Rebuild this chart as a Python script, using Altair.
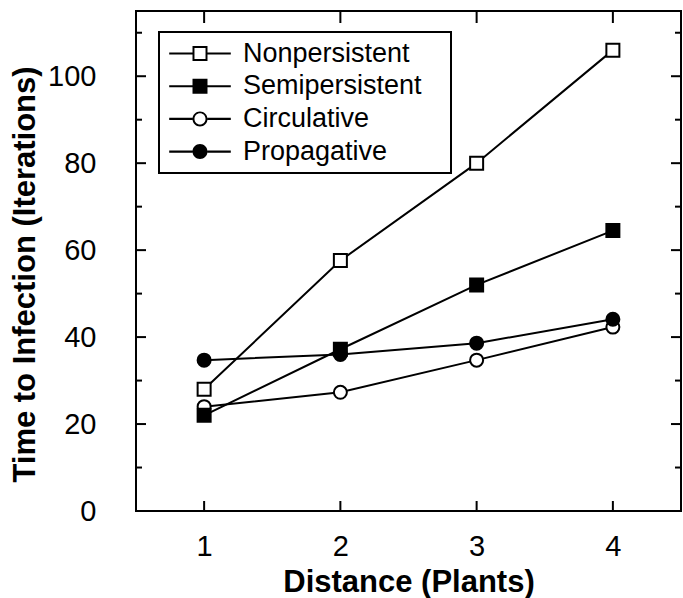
import altair as alt
import pandas as pd

# ---------------- data ----------------
distance = [1, 2, 3, 4]
series_names = ["Nonpersistent", "Semipersistent", "Circulative", "Propagative"]
nonpersistent = [28.0, 57.6, 80.0, 106.0]
semipersistent = [22.0, 37.2, 52.0, 64.5]
circulative = [24.0, 27.3, 34.7, 42.3]
propagative = [34.7, 36.0, 38.6, 44.1]

x_ticks = [1, 2, 3, 4]
y_major = [0, 20, 40, 60, 80, 100]
y_minor = [10, 30, 50, 70, 90, 110]

values = {
    "Nonpersistent": nonpersistent,
    "Semipersistent": semipersistent,
    "Circulative": circulative,
    "Propagative": propagative,
}
draw_order = ["Nonpersistent", "Circulative", "Propagative", "Semipersistent"]
rows = []
for name in draw_order:
    for d, v in zip(distance, values[name]):
        rows.append({"series": name, "distance": d, "time": v})
df = pd.DataFrame(rows)

# ---------------- layout ----------------
W, H = 545, 500
FONT = "Liberation Sans"

# legend symbols: line through marker (fill-only paths, unit = 7 px);
# the trailing move-to widens the legend box to the right
bars = "M-4.4,-0.15H-1.07V0.15H-4.4Z M1.07,-0.15H4.4V0.15H1.07Z "
pad = " M34.7,0Z"
open_sq = "M-1.07,-1.07H1.07V1.07H-1.07Z M-0.79,-0.79V0.79H0.79V-0.79Z"
fill_sq = "M-1.07,-1.07H1.07V1.07H-1.07Z"
open_ci = ("M-1.07,0A1.07,1.07,0,1,1,1.07,0A1.07,1.07,0,1,1,-1.07,0Z "
           "M-0.79,0A0.79,0.79,0,1,0,0.79,0A0.79,0.79,0,1,0,-0.79,0Z")
fill_ci = "M-1.07,0A1.07,1.07,0,1,1,1.07,0A1.07,1.07,0,1,1,-1.07,0Z"
legend_paths = [bars + open_sq + pad, bars + fill_sq + pad,
                bars + open_ci + pad, bars + fill_ci + pad]

xscale = alt.Scale(domain=[0.5, 4.5], nice=False, zero=False)
yscale = alt.Scale(domain=[0, 115], nice=False, zero=False)

x_axis = alt.Axis(
    values=x_ticks, ticks=False, tickSize=0, domain=False, grid=False,
    labelFont=FONT, labelFontSize=29, labelColor="black", labelPadding=21,
    title="Distance (Plants)", titleFont=FONT, titleFontSize=31,
    titleFontWeight="bold", titleColor="black",
    titleY=80, titleBaseline="alphabetic",
)
y_axis = alt.Axis(
    values=y_major, ticks=False, tickSize=0, domain=False, grid=False,
    labelFont=FONT, labelFontSize=29, labelColor="black", labelPadding=40,
    labelBaseline="middle",
    title="Time to Infection (Iterations)", titleFont=FONT, titleFontSize=31,
    titleFontWeight="bold", titleColor="black",
    titleX=-111, titleY=263, titleBaseline="middle",
)

def X(field="distance"):
    return alt.X(f"{field}:Q", scale=xscale, axis=x_axis, title="Distance (Plants)")

def Y(field="time"):
    return alt.Y(f"{field}:Q", scale=yscale, axis=y_axis, title="Time to Infection (Iterations)")

lines = alt.Chart(df).mark_line(color="black", strokeWidth=2).encode(
    x=X(), y=Y(), detail="series:N"
)

points = alt.Chart(df).mark_point(size=169, strokeWidth=2, opacity=1).encode(
    x=X(), y=Y(),
    shape=alt.Shape("series:N", scale=alt.Scale(domain=series_names,
                    range=["square", "square", "circle", "circle"]), legend=None),
    fill=alt.Fill("series:N", scale=alt.Scale(domain=series_names,
                  range=["white", "black", "white", "black"]), legend=None),
    stroke=alt.value("black"),
)

legend_layer = alt.Chart(df).mark_point(filled=True, color="black", opacity=0, size=196).encode(
    x=X(), y=Y(),
    shape=alt.Shape(
        "series:N",
        scale=alt.Scale(domain=series_names, range=legend_paths),
        legend=alt.Legend(
            title=None, orient="none", legendX=23, legendY=21,
            strokeColor="black", fillColor="white", padding=8,
            labelFont=FONT, labelFontSize=27, labelColor="black", labelLimit=0,
            rowPadding=4.7, symbolOffset=19.5, labelOffset=29.5,
            symbolSize=196, symbolFillColor="black", symbolStrokeWidth=0,
            symbolOpacity=1,
        ),
    ),
)

tx = pd.DataFrame({"distance": x_ticks})
tmaj = pd.DataFrame({"time": y_major})
tmin = pd.DataFrame({"time": y_minor})

def xrule(y0, y1):
    return alt.Chart(tx).mark_rule(color="black", strokeWidth=2).encode(
        x=X(), y=alt.value(y0), y2=alt.value(y1))

def yrule(data, x0, x1):
    return alt.Chart(data).mark_rule(color="black", strokeWidth=2).encode(
        y=Y(), x=alt.value(x0), x2=alt.value(x1))

ticks = [
    xrule(H, H - 10), xrule(0, 12),
    yrule(tmaj, 0, 10), yrule(tmin, 0, 6),
    yrule(tmaj, W, W - 10), yrule(tmin, W, W - 6),
]

chart = alt.layer(lines, *ticks, points, legend_layer).resolve_scale(
    shape="independent"
).properties(
    width=W, height=H,
    autosize=alt.AutoSizeParams(type="none"),
    padding={"left": 136, "top": 11, "right": 2, "bottom": 87},
).configure(background="white").configure_view(
    stroke="black", strokeWidth=2
).configure_legend(strokeWidth=2)

chart.save("out.html", embed_options={"renderer": "svg", "actions": False})
